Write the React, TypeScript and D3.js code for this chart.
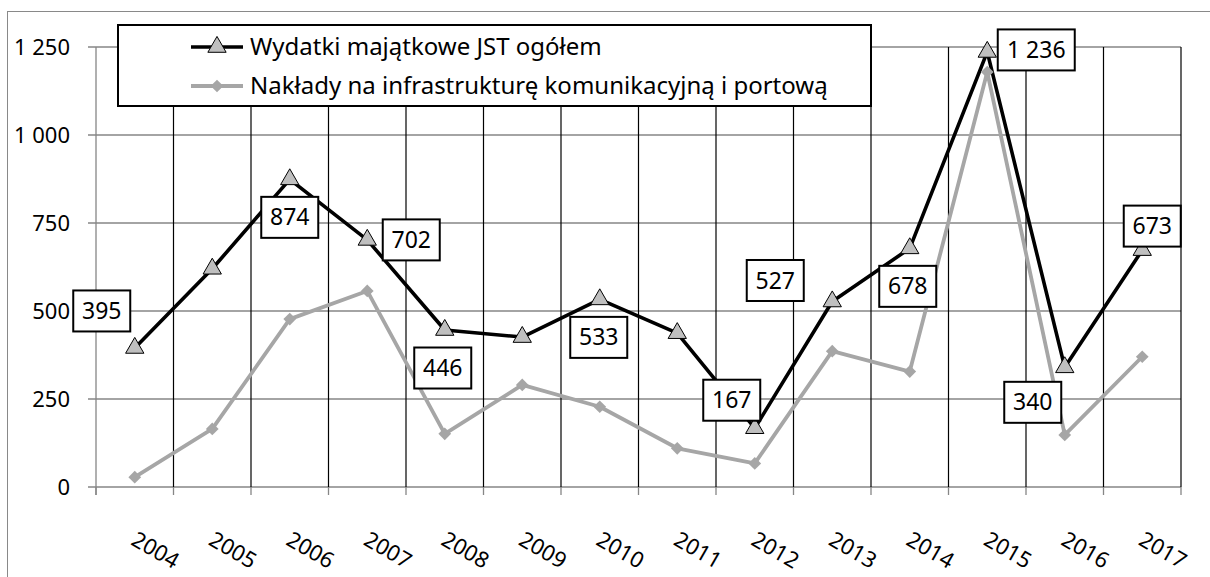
import React from "react";
import * as d3 from "d3";

// data
const years = ["2004", "2005", "2006", "2007", "2008", "2009", "2010", "2011", "2012", "2013", "2014", "2015", "2016", "2017"];
const totalSpending = [395, 620, 874, 702, 446, 426, 533, 437, 167, 527, 678, 1236, 340, 673];
const transportSpending = [28, 165, 477, 557, 151, 290, 228, 110, 67, 386, 328, 1179, 148, 370];
const yTicks = [0, 250, 500, 750, 1000, 1250];
const seriesNames = ["Wydatki majątkowe JST ogółem", "Nakłady na infrastrukturę komunikacyjną i portową"];

// where each value label sits relative to its point (null = no label)
const labelOffsets: ([number, number] | null)[] = [
  [-33, -37], null, [0, 38], [44, 0], [-2, 38], null, [-1, 38],
  null, [-23, -28], [-57, -21], [-2, 38], [49, -2], [-32, 35], [10, -24],
];

const FONT = "'Noto Sans', sans-serif";
const BLACK = "#000";
const GRAY = "#a6a6a6";

const plPL = d3.formatLocale({ decimal: ",", thousands: "\u00a0", grouping: [3], currency: ["", " zł"] });
const fmt = plPL.format(",d");

const App = () => {
  const width = 1210;
  const height = 577;
  const left = 96;
  const right = 1181;
  const top = 47;
  const bottom = 487;

  const x = d3.scaleBand().domain(years).range([left, right]);
  const y = d3.scaleLinear().domain([0, 1250]).range([bottom, top]);
  const cx = (i: number) => (x(years[i]) as number) + x.bandwidth() / 2;

  const line = d3
    .line<number>()
    .x((_, i) => cx(i))
    .y((d) => y(d));

  const triangle = d3.symbol(d3.symbolTriangle, 145)() as string;
  const diamond = d3.symbol(d3.symbolSquare, 81)() as string;

  const boundaries = d3.range(years.length + 1).map((i) => left + i * x.step());

  return (
    <svg
      width={width}
      height={height}
      style={{ position: "absolute", left: 0, top: 0, display: "block", background: "#fff" }}
      fontFamily={FONT}
    >
      {/* outer chart frame */}
      <rect x={7.5} y={11.5} width={1300} height={700} fill="#fff" stroke="#898989" strokeWidth={1} />

      {/* horizontal gridlines + y ticks */}
      {yTicks.map((t) => (
        <g key={t}>
          <line x1={88} x2={right} y1={y(t)} y2={y(t)} stroke="#868686" strokeWidth={1.3} />
          <text x={70} y={y(t)} dy="0.35em" textAnchor="end" fontSize={22} fill="#000">
            {fmt(t)}
          </text>
        </g>
      ))}

      {/* vertical gridlines */}
      {boundaries.map((bx, i) => (
        <g key={i}>
          {i > 0 && <line x1={bx} x2={bx} y1={top} y2={bottom} stroke="#000" strokeWidth={1.2} />}
          <line x1={bx} x2={bx} y1={bottom} y2={495} stroke="#868686" strokeWidth={1.3} />
        </g>
      ))}
      <line x1={left} x2={left} y1={top} y2={495} stroke="#868686" strokeWidth={1.3} />

      {/* x labels */}
      {years.map((yr, i) => (
        <text
          key={yr}
          transform={`translate(${cx(i) - 5},544) rotate(30)`}
          fontSize={22}
          fill="#000"
        >
          {yr}
        </text>
      ))}

      {/* series lines */}
      <path d={line(totalSpending) as string} fill="none" stroke={BLACK} strokeWidth={3.6} strokeLinejoin="round" />
      {totalSpending.map((v, i) => (
        <path key={i} d={triangle} transform={`translate(${cx(i)},${y(v)})`} fill="#bfbfbf" stroke="#000" strokeWidth={1} />
      ))}
      <path d={line(transportSpending) as string} fill="none" stroke={GRAY} strokeWidth={3.8} strokeLinejoin="round" />
      {transportSpending.map((v, i) => (
        <path key={i} d={diamond} transform={`translate(${cx(i)},${y(v)}) rotate(45)`} fill={GRAY} />
      ))}

      {/* value labels */}
      {totalSpending.map((v, i) => {
        const off = labelOffsets[i];
        if (!off) return null;
        const label = fmt(v);
        const w = label.length > 3 ? 77 : 57;
        const lx = cx(i) + off[0];
        const ly = y(v) + off[1];
        return (
          <g key={i}>
            <rect x={lx - w / 2} y={ly - 20.5} width={w} height={41} fill="#fff" stroke="#000" strokeWidth={2} />
            <text x={lx} y={ly} dy="0.35em" textAnchor="middle" fontSize={23} fill="#000">
              {label}
            </text>
          </g>
        );
      })}

      {/* legend */}
      <rect x={118} y={25} width={753} height={81} fill="#fff" stroke="#000" strokeWidth={2} />
      <line x1={191} x2={243} y1={47} y2={47} stroke={BLACK} strokeWidth={3.6} />
      <path d={triangle} transform="translate(217,47)" fill="#bfbfbf" stroke="#000" strokeWidth={1} />
      <text x={250} y={47} dy="0.35em" fontSize={24} fill="#000">
        {seriesNames[0]}
      </text>
      <line x1={191} x2={243} y1={86} y2={86} stroke={GRAY} strokeWidth={3.8} />
      <path d={diamond} transform="translate(217,86) rotate(45)" fill={GRAY} />
      <text x={250} y={86} dy="0.35em" fontSize={24} fill="#000">
        {seriesNames[1]}
      </text>
    </svg>
  );
};

export default App;
